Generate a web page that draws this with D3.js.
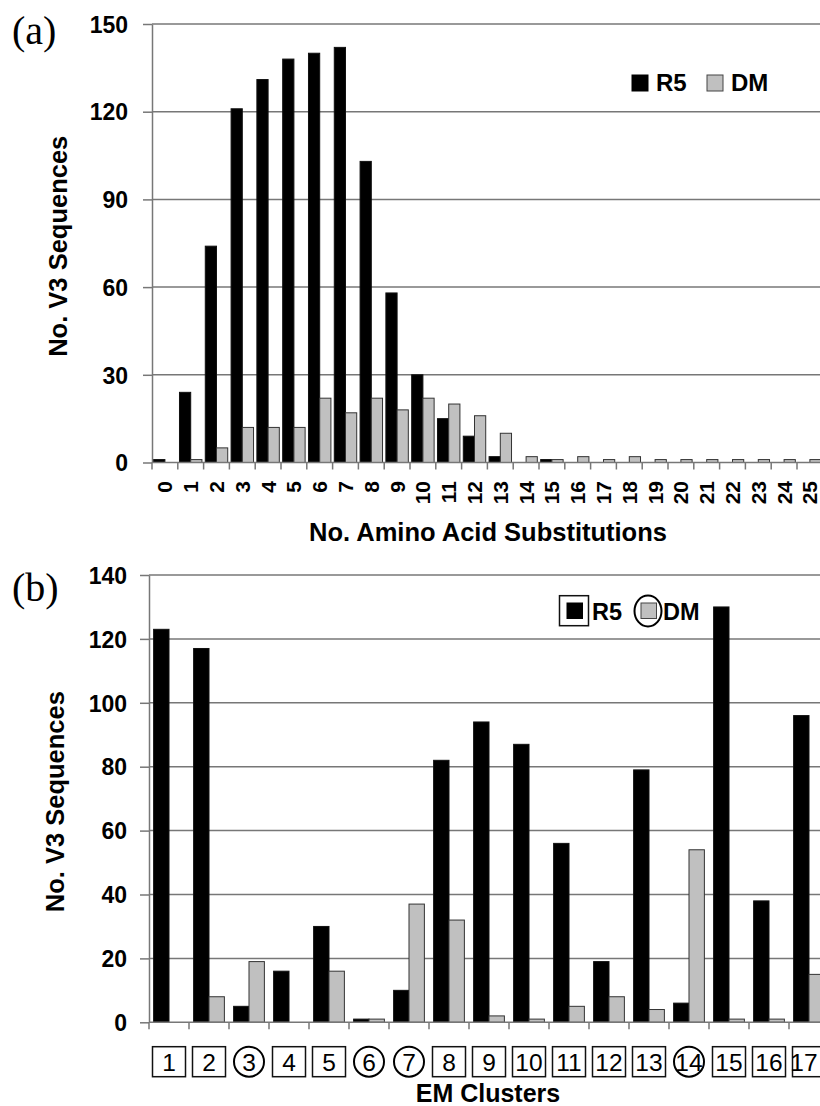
<!DOCTYPE html>
<html><head><meta charset="utf-8">
<script src="https://cdn.jsdelivr.net/npm/d3@7"></script>
<style>body{margin:0;background:#fff}svg{display:block}</style>
</head><body>
<svg id="c" width="820" height="1106"></svg>
<script>
// ---------- data ----------
const seriesNames = ["R5", "DM"];
const seriesColors = ["#000000", "#c0c0c0"];

// panel (a)
const subsCategories = ["0","1","2","3","4","5","6","7","8","9","10","11","12","13","14","15","16","17","18","19","20","21","22","23","24","25"];
const subsR5 = [1,24,74,121,131,138,140,142,103,58,30,15,9,2,0,1,0,0,0,0,0,0,0,0,0,0];
const subsDM = [0,1,5,12,12,12,22,17,22,18,22,20,16,10,2,1,2,1,2,1,1,1,1,1,1,1];
const subsTicks = [0,30,60,90,120,150];

// panel (b)
const clusterCategories = ["1","2","3","4","5","6","7","8","9","10","11","12","13","14","15","16","17"];
const clusterR5 = [123,117,5,16,30,1,10,82,94,87,56,19,79,6,130,38,96];
const clusterDM = [0,8,19,0,16,1,37,32,2,1,5,8,4,54,1,1,15];
const clusterMarker = ["box","box","circle","box","box","circle","circle","box","box","box","box","box","box","circle","box","box","box"];
const clusterTicks = [0,20,40,60,80,100,120,140];

const yTitle = "No. V3 Sequences";
const xTitleA = "No. Amino Acid Substitutions";
const xTitleB = "EM Clusters";

// ---------- drawing ----------
const svg = d3.select("#c");
const SANS = "'Liberation Sans', Arial, sans-serif";
const SERIF = "'Liberation Serif', 'Times New Roman', serif";
const GRID = "#777777";

function panel(o) {
  const g = svg.append("g");
  const x = d3.scaleBand().domain(o.cats).range([o.left, o.right]).paddingInner(0).paddingOuter(0);
  const xs = d3.scaleBand().domain(seriesNames).range([0, x.bandwidth()]).paddingInner(0).paddingOuter(o.subPad);
  const y = d3.scaleLinear().domain([0, d3.max(o.ticks)]).range([o.bottom, o.top]);

  // gridlines
  g.append("g").selectAll("line").data(o.ticks.filter(t => t > 0)).join("line")
    .attr("x1", o.left).attr("x2", o.right)
    .attr("y1", d => y(d)).attr("y2", d => y(d))
    .attr("stroke", GRID).attr("stroke-width", 1.5);

  // y axis
  const ya = g.append("g").attr("transform", `translate(${o.left},0)`)
    .call(d3.axisLeft(y).tickValues(o.ticks).tickSize(9).tickPadding(o.tickPad).tickSizeOuter(0));
  ya.select(".domain").attr("stroke", GRID).attr("stroke-width", 1.5);
  ya.selectAll(".tick line").attr("stroke", GRID).attr("stroke-width", 1.5);
  ya.selectAll("text").attr("font-family", SANS).attr("font-weight", "bold")
    .attr("font-size", o.yFont).attr("fill", "#000").attr("dy", "0.36em");

  // bars
  const data = [];
  o.cats.forEach((c, i) => {
    data.push({c, s: "R5", v: o.r5[i]});
    data.push({c, s: "DM", v: o.dm[i]});
  });
  g.append("g").selectAll("rect").data(data.filter(d => d.v > 0)).join("rect")
    .attr("x", d => x(d.c) + xs(d.s))
    .attr("width", xs.bandwidth())
    .attr("y", d => y(d.v))
    .attr("height", d => y(0) - y(d.v))
    .attr("fill", d => seriesColors[seriesNames.indexOf(d.s)])
    .attr("stroke", d => d.s === "R5" ? "#111" : "#333")
    .attr("stroke-width", 1);

  // x axis line + boundary ticks
  g.append("line").attr("x1", o.left).attr("x2", o.right)
    .attr("y1", y(0)).attr("y2", y(0)).attr("stroke", GRID).attr("stroke-width", 1.5);
  const bounds = o.cats.map(c => x(c)).concat([x(o.cats[o.cats.length - 1]) + x.bandwidth()]);
  g.append("g").selectAll("line").data(bounds).join("line")
    .attr("x1", d => d).attr("x2", d => d)
    .attr("y1", y(0)).attr("y2", y(0) + 7)
    .attr("stroke", GRID).attr("stroke-width", 1.5);

  // y title
  g.append("text").attr("transform", `translate(${o.yTitleX},${(o.top + o.bottom) / 2 + 3}) rotate(-90)`)
    .attr("text-anchor", "middle").attr("dy", "0.35em")
    .attr("font-family", SANS).attr("font-weight", "bold").attr("font-size", 25.5)
    .text(yTitle);

  // panel label
  g.append("text").attr("x", 12).attr("y", o.labelY)
    .attr("font-family", SERIF).attr("font-size", 40).text(o.label);
  return {g, x, y};
}

// ----- panel (a)
const A = panel({
  cats: subsCategories, r5: subsR5, dm: subsDM, ticks: subsTicks,
  left: 152, right: 152 + 26 * 25.8, top: 24, bottom: 462.5,
  subPad: 0.15, tickPad: 15, yFont: 23, yTitleX: 58, label: "(a)", labelY: 44
});
A.g.append("g").selectAll("text").data(subsCategories).join("text")
  .attr("transform", d => `translate(${Math.min(A.x(d) + A.x.bandwidth() / 2, 810)},481) rotate(-90)`)
  .attr("text-anchor", "end").attr("dy", "0.36em")
  .attr("font-family", SANS).attr("font-weight", "bold").attr("font-size", 21)
  .text(d => d);
A.g.append("text").attr("x", 488).attr("y", 541).attr("text-anchor", "middle")
  .attr("font-family", SANS).attr("font-weight", "bold").attr("font-size", 25.5)
  .text(xTitleA);

// legend (a)
const legA = A.g.append("g");
const legAX = [632, 707];
seriesNames.forEach((s, i) => {
  legA.append("rect").attr("x", legAX[i]).attr("y", 75).attr("width", 16).attr("height", 16)
    .attr("fill", seriesColors[i]).attr("stroke", i === 0 ? "#000" : "#444").attr("stroke-width", 1);
  legA.append("text").attr("x", legAX[i] + 24).attr("y", 91)
    .attr("font-family", SANS).attr("font-weight", "bold").attr("font-size", 24).text(s);
});

// ----- panel (b)
const B = panel({
  cats: clusterCategories, r5: clusterR5, dm: clusterDM, ticks: clusterTicks,
  left: 149, right: 149 + 17 * 40, top: 575, bottom: 1022.3,
  subPad: 0.3, tickPad: 13, yFont: 23, yTitleX: 55, label: "(b)", labelY: 601
});
const lab = B.g.append("g");
clusterCategories.forEach((c, i) => {
  const cx = B.x(c) + B.x.bandwidth() / 2;
  const cy = 1061.7;
  if (clusterMarker[i] === "box") {
    lab.append("rect").attr("x", cx - 16.5).attr("y", cy - 15).attr("width", 33).attr("height", 30)
      .attr("fill", "none").attr("stroke", "#111").attr("stroke-width", 1.5);
  } else {
    lab.append("circle").attr("cx", cx).attr("cy", cy).attr("r", 15)
      .attr("fill", "none").attr("stroke", "#000").attr("stroke-width", 2);
  }
  const tx = Math.min(cx, 804);
  lab.append("text").attr("x", tx).attr("y", 1070.5).attr("text-anchor", "middle")
    .attr("font-family", SANS).attr("font-size", 24.5).text(c);
});
B.g.append("text").attr("x", 488).attr("y", 1102).attr("text-anchor", "middle")
  .attr("font-family", SANS).attr("font-weight", "bold").attr("font-size", 25)
  .text(xTitleB);

// legend (b)
const legB = B.g.append("g");
const legBX = [567, 641];
seriesNames.forEach((s, i) => {
  const sx = legBX[i];
  if (i === 0) {
    legB.append("rect").attr("x", sx - 7.5).attr("y", 595.7).attr("width", 29).attr("height", 30)
      .attr("fill", "none").attr("stroke", "#111").attr("stroke-width", 1.5);
  }
  legB.append("rect").attr("x", sx).attr("y", 603).attr("width", 15.5).attr("height", 15.5)
    .attr("fill", seriesColors[i]).attr("stroke", i === 0 ? "#000" : "#444").attr("stroke-width", 1);
  if (i === 1) {
    legB.append("ellipse").attr("cx", sx + 7).attr("cy", 611).attr("rx", 13.5).attr("ry", 15.5)
      .attr("fill", "none").attr("stroke", "#000").attr("stroke-width", 2);
  }
  legB.append("text").attr("x", sx + (i === 0 ? 25 : 22)).attr("y", 619.5)
    .attr("font-family", SANS).attr("font-weight", "bold").attr("font-size", 23.5).text(s);
});
</script>
</body></html>
